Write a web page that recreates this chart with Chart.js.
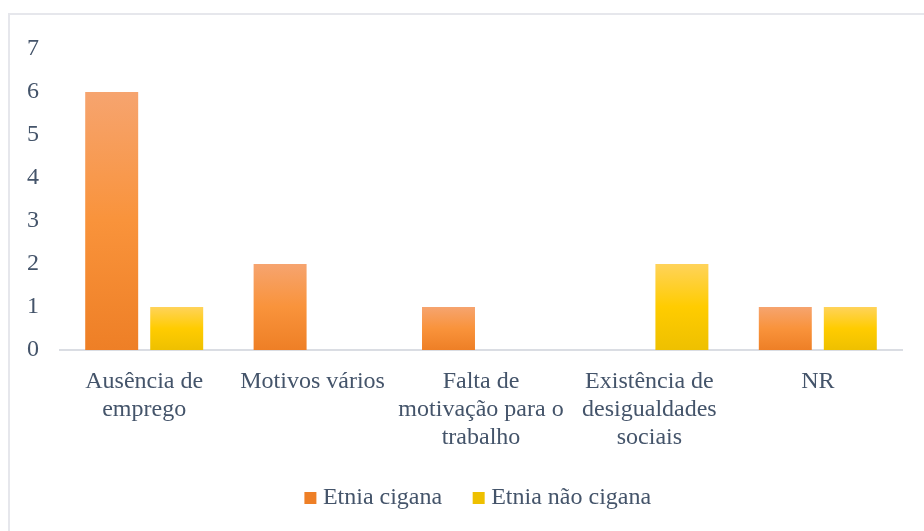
<!DOCTYPE html>
<html lang="pt">
<head>
    <meta charset="UTF-8">
    <title>Motivos por etnia</title>
    <script src="https://cdn.jsdelivr.net/npm/chart.js"></script>
    <style>
        body {
            margin: 0;
            background: #fff;
        }
        .moldura {
            position: absolute;
            left: 8px;
            top: 13px;
            width: 940px;
            height: 540px;
            border: 2px solid #e6e7ec;
        }
        .grafico {
            position: absolute;
            left: 0;
            top: 0;
            width: 924px;
            height: 531px;
        }
    </style>
</head>
<body>
    <div class="moldura"></div>
    <div class="grafico">
        <canvas id="motivosChart"></canvas>
    </div>

    <script>
        const categorias = [
            ['Ausência de', 'emprego'],
            'Motivos vários',
            ['Falta de', 'motivação para o', 'trabalho'],
            ['Existência de', 'desigualdades', 'sociais'],
            'NR'
        ];
        const etniaCigana = [6, 2, 1, 0, 1];
        const etniaNaoCigana = [1, 0, 0, 2, 1];
        const ticksY = [0, 1, 2, 3, 4, 5, 6, 7];

        const corTexto = '#44546A';
        const fonte = { family: "'Liberation Serif', 'Times New Roman', serif", size: 24 };

        // gradiente vertical por barra, como no Excel
        function gradiente(stops, solida) {
            return (c) => {
                const chart = c.chart;
                if (c.type !== 'data' || !chart.chartArea) return solida;
                const y = chart.scales.y;
                const topo = y.getPixelForValue(c.raw);
                const base = y.getPixelForValue(0);
                if (base - topo < 1) return solida;
                const g = chart.ctx.createLinearGradient(0, topo, 0, base);
                g.addColorStop(0, stops[0]);
                g.addColorStop(0.5, stops[1]);
                g.addColorStop(1, stops[2]);
                return g;
            };
        }

        // a legenda fica centrada na área do gráfico, não no canvas
        const legendaCentrada = {
            id: 'legendaCentrada',
            afterLayout(chart) {
                chart.legend.left = 59;
            }
        };

        new Chart(document.getElementById('motivosChart'), {
            type: 'bar',
            data: {
                labels: categorias,
                datasets: [{
                    label: 'Etnia cigana',
                    data: etniaCigana,
                    backgroundColor: gradiente(['#F6A46F', '#F9933B', '#EE7F26'], '#F58E3A')
                }, {
                    label: 'Etnia não cigana',
                    data: etniaNaoCigana,
                    backgroundColor: gradiente(['#FFD35A', '#FFCC00', '#EEC000'], '#FFCB1A')
                }]
            },
            plugins: [legendaCentrada],
            options: {
                responsive: true,
                maintainAspectRatio: false,
                animation: false,
                categoryPercentage: 0.772,
                barPercentage: 0.815,
                layout: {
                    padding: { top: 49, left: 6, right: 22, bottom: 11 }
                },
                plugins: {
                    legend: {
                        position: 'bottom',
                        labels: {
                            color: corTexto,
                            font: fonte,
                            usePointStyle: true,
                            pointStyle: 'rect',
                            boxWidth: 1,
                            boxHeight: 12,
                            padding: 36
                        }
                    },
                    tooltip: { enabled: false }
                },
                scales: {
                    x: {
                        grid: { display: false, drawTicks: false },
                        border: { display: true, color: '#DADDE3', width: 2 },
                        ticks: {
                            color: corTexto,
                            font: { ...fonte, lineHeight: 1.167 },
                            padding: 18,
                            maxRotation: 0,
                            autoSkip: false
                        },
                        afterFit: (s) => { s.paddingLeft = 0; s.paddingRight = 0; s.height = 100; }
                    },
                    y: {
                        min: 0,
                        max: ticksY[ticksY.length - 1],
                        afterBuildTicks: (s) => { s.ticks = ticksY.map(v => ({ value: v })); },
                        grid: { display: false, drawTicks: false },
                        border: { display: false },
                        ticks: {
                            color: corTexto,
                            font: fonte,
                            padding: 21
                        }
                    }
                }
            }
        });
    </script>
</body>
</html>
